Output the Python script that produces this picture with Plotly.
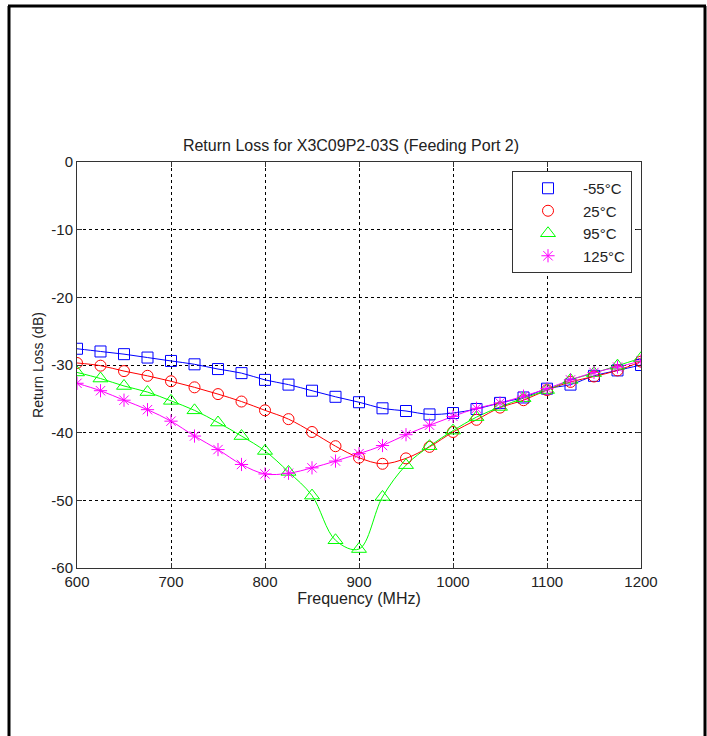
import plotly.graph_objects as go

freq = [600, 625, 650, 675, 700, 725, 750, 775, 800, 825, 850, 875, 900,
        925, 950, 975, 1000, 1025, 1050, 1075, 1100, 1125, 1150, 1175, 1200]

rl_m55 = [-27.6, -28.0, -28.4, -28.9, -29.4, -29.9, -30.6, -31.2, -32.2, -32.9, -33.8, -34.7, -35.5,
          -36.4, -36.8, -37.3, -37.1, -36.5, -35.6, -34.8, -33.5, -32.9, -31.6, -30.8, -30.0]
rl_25 = [-29.7, -30.1, -30.9, -31.6, -32.4, -33.3, -34.3, -35.4, -36.7, -38.0, -39.9, -42.0, -43.7,
         -44.6, -43.8, -42.1, -39.9, -38.1, -36.3, -35.2, -33.7, -32.5, -31.7, -30.8, -29.5]
rl_95 = [-31.1, -32.0, -33.1, -34.0, -35.3, -36.7, -38.5, -40.5, -42.7, -45.8, -49.3, -55.9, -57.2,
         -49.5, -44.8, -42.0, -39.7, -37.7, -36.2, -34.9, -33.7, -32.2, -31.2, -30.1, -29.0]
rl_125 = [-32.7, -33.8, -35.2, -36.6, -38.3, -40.5, -42.5, -44.7, -46.1, -46.0, -45.2, -44.2, -43.1,
          -41.9, -40.3, -38.9, -37.6, -36.4, -35.6, -34.6, -33.5, -32.2, -31.1, -30.3, -29.4]

series_names = ["-55\u00b0C", "25\u00b0C", "95\u00b0C", "125\u00b0C"]
series_vals = [rl_m55, rl_25, rl_95, rl_125]
colors = ["#0000FF", "#FF0000", "#00FF00", "#FF00FF"]
symbols = ["square-open", "circle-open", "triangle-up-open", "asterisk-open"]
sizes = [11, 11, 13, 11]

x_ticks = [600, 700, 800, 900, 1000, 1100, 1200]
y_ticks = [0, -10, -20, -30, -40, -50, -60]

FONT = "Liberation Sans, Arial, sans-serif"

fig = go.Figure()
for name, vals, c in zip(series_names, series_vals, colors):
    fig.add_trace(go.Scatter(x=freq, y=vals, mode="lines", showlegend=False,
                             line=dict(color=c, width=1, shape="spline", smoothing=1.0),
                             hoverinfo="skip"))
for name, vals, c, s, sz in zip(series_names, series_vals, colors, symbols, sizes):
    fig.add_trace(go.Scatter(x=freq, y=vals, mode="markers", name=name,
                             marker=dict(symbol=s, size=sz, color=c,
                                         line=dict(color=c, width=1))))

W, H = 707, 736
L, R, T, B = 77, 66, 162, 168
pw = W - L - R
ph = H - T - B

def px(xp):
    return (xp - L) / pw

def py(yp):
    return (H - B - yp) / ph

fig.update_layout(
    width=W, height=H,
    margin=dict(l=L, r=R, t=T, b=B, pad=0),
    paper_bgcolor="white", plot_bgcolor="white",
    font=dict(family=FONT, size=13, color="#222222"),
    title=dict(text="Return Loss for X3C09P2-03S (Feeding Port 2)",
               x=px(357), xanchor="center", y=1 - 145 / H, yanchor="middle",
               font=dict(size=16, color="#222222")),
    xaxis=dict(range=[600, 1200], tickvals=x_ticks, ticktext=[str(v) for v in x_ticks],
               showgrid=True, gridcolor="black", griddash="3px,3px", gridwidth=1,
               showline=True, linecolor="#333333", linewidth=1, mirror="ticks",
               ticks="inside", ticklen=5, tickcolor="#333333",
               zeroline=False, tickfont=dict(size=15),
               title=dict(text="Frequency (MHz)", font=dict(size=16), standoff=2)),
    yaxis=dict(range=[-60, 0], tickvals=y_ticks, ticktext=[str(v) for v in y_ticks],
               showgrid=True, gridcolor="black", griddash="3px,3px", gridwidth=1,
               showline=True, linecolor="#333333", linewidth=1, mirror="ticks",
               ticks="inside", ticklen=5, tickcolor="#333333",
               zeroline=False, tickfont=dict(size=15),
               title=dict(text="Return Loss (dB)", font=dict(size=14), standoff=4)),
    legend=dict(x=px(512), y=py(171), xanchor="left", yanchor="top",
                bgcolor="white", bordercolor="#333333", borderwidth=1,
                font=dict(size=15, color="#222222"), itemwidth=60,
                tracegroupgap=0),
    showlegend=True,
)

# outer frame lines of the page
fig.add_shape(type="line", xref="paper", yref="paper",
              x0=px(9), x1=px(9), y0=py(6), y1=py(740),
              line=dict(color="black", width=3))
fig.add_shape(type="line", xref="paper", yref="paper",
              x0=px(8), x1=px(706), y0=py(6), y1=py(6),
              line=dict(color="black", width=3))
fig.add_shape(type="line", xref="paper", yref="paper",
              x0=px(705), x1=px(705), y0=py(6), y1=py(740),
              line=dict(color="black", width=3))

fig.write_html("out.html",
               config={"displayModeBar": False},
               post_script="document.body.style.margin='0';document.body.style.overflow='hidden';")
